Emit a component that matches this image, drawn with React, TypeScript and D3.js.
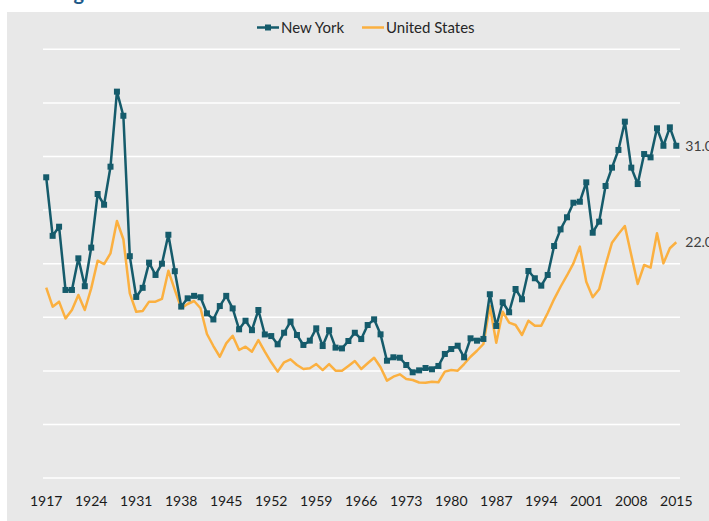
import * as d3 from 'd3';

const firstYear = 1917;
const lastYear = 2015;
const years = d3.range(firstYear, lastYear + 1);
const tickYears = [1917, 1924, 1931, 1938, 1945, 1952, 1959, 1966, 1973, 1980, 1987, 1994, 2001, 2008, 2015];
const gridValues = [0, 5, 10, 15, 20, 25, 30, 35, 40];

const seriesNames = ['New York', 'United States'];

// 1917 - 2015
const newYork = [
  28.06, 22.6, 23.45, 17.55, 17.55, 20.5, 17.9, 21.5, 26.5, 25.5,
  29.05, 36.05, 33.8, 20.7, 16.9, 17.75, 20.1, 18.95, 20.0, 22.7,
  19.3, 16.0, 16.77, 17.0, 16.87, 15.37, 14.8, 16.05, 17.0, 15.83,
  13.88, 14.68, 13.8, 15.68, 13.4, 13.25, 12.48, 13.56, 14.6, 13.35,
  12.42, 12.82, 13.97, 12.32, 13.8, 12.17, 12.1, 12.79, 13.56, 12.97,
  14.28, 14.81, 13.41, 10.95, 11.27, 11.23, 10.55, 9.87, 10.05, 10.27,
  10.15, 10.46, 11.58, 12.04, 12.35, 11.27, 13.04, 12.82, 12.98, 17.15,
  14.19, 16.4, 15.47, 17.64, 16.68, 19.32, 18.64, 17.95, 18.95, 21.65,
  23.2, 24.33, 25.69, 25.78, 27.59, 22.89, 23.92, 27.25, 28.96, 30.61,
  33.25, 28.96, 27.43, 30.23, 29.92, 32.63, 31.0, 32.72, 31.0,
];

const unitedStates = [
  17.76, 15.99, 16.46, 14.9, 15.68, 17.08, 15.68, 17.7, 20.28, 19.97,
  20.97, 23.98, 22.28, 17.24, 15.52, 15.59, 16.46, 16.46, 16.71, 19.35,
  17.55, 15.84, 16.24, 16.52, 15.84, 13.44, 12.32, 11.32, 12.57, 13.28,
  11.95, 12.26, 11.79, 12.88, 11.79, 10.8, 9.93, 10.8, 11.08, 10.55,
  10.18, 10.24, 10.64, 10.08, 10.64, 10.02, 10.02, 10.46, 10.92, 10.18,
  10.71, 11.23, 10.34, 9.09, 9.46, 9.68, 9.24, 9.15, 8.92, 8.9,
  8.99, 8.94, 9.93, 10.08, 10.02, 10.64, 11.32, 11.88, 12.51, 16.05,
  12.63, 15.52, 14.5, 14.28, 13.35, 14.68, 14.22, 14.22, 15.4, 16.7,
  17.85, 18.9, 20.03, 21.59, 18.32, 16.87, 17.61, 19.88, 21.96, 22.77,
  23.52, 20.81, 18.11, 19.88, 19.63, 22.84, 20.03, 21.44, 22.0,
];

const width = 709;
const height = 521;
const nyColor = '#155b6b';
const usColor = '#fbb040';
const font = "Lato, 'Open Sans', sans-serif";

export default function App() {
  const x = d3.scalePoint<number>().domain(years).range([43, 679.5]).padding(0.5);
  const y = d3.scaleLinear().domain([0, 40]).range([478.1, 49.3]);

  const line = d3
    .line<number>()
    .x((_, i) => x(years[i]) as number)
    .y((d) => y(d));

  const lastX = x(lastYear) as number;
  const nyLast = newYork[newYork.length - 1];
  const usLast = unitedStates[unitedStates.length - 1];

  return (
    <div style={{ position: 'fixed', left: 0, top: 0 }}>
      <svg width={width} height={height} style={{ display: 'block' }}>
        <rect x={0} y={0} width={width} height={height} fill="#ffffff" />
        <text x={84} y={0} textAnchor="end" fontFamily={font} fontWeight="bold" fontSize={20} fill="#1d5a8a">
          Housing
        </text>
        <rect x={7} y={12} width={width - 7} height={height - 12} fill="#e8e8e8" />

        {gridValues.map((v) => (
          <line key={v} x1={43} x2={680} y1={y(v)} y2={y(v)} stroke="#ffffff" strokeWidth={1.5} />
        ))}

        {/* legend */}
        <g fontFamily={font} fontSize={15} fill="#262626">
          <line x1={257} x2={279} y1={27.5} y2={27.5} stroke={nyColor} strokeWidth={2.5} />
          <rect x={265} y={24.5} width={6} height={6} fill={nyColor} />
          <text x={281} y={33}>{seriesNames[0]}</text>
          <line x1={362} x2={384} y1={27.5} y2={27.5} stroke={usColor} strokeWidth={2.5} />
          <text x={386} y={33}>{seriesNames[1]}</text>
        </g>

        <path d={line(unitedStates) ?? ''} fill="none" stroke={usColor} strokeWidth={2.5} strokeLinejoin="round" />
        <path d={line(newYork) ?? ''} fill="none" stroke={nyColor} strokeWidth={2.5} strokeLinejoin="round" />
        {newYork.map((v, i) => (
          <rect
            key={i}
            x={(x(years[i]) as number) - 3}
            y={y(v) - 3}
            width={6}
            height={6}
            fill={nyColor}
          />
        ))}

        <g fontFamily={font} fontSize={14} fill="#404040">
          <text x={lastX + 9} y={y(nyLast) + 5}>{nyLast.toFixed(1)}</text>
          <text x={lastX + 9} y={y(usLast) + 5}>{usLast.toFixed(1)}</text>
        </g>

        <g fontFamily={font} fontSize={14} fill="#1a1a1a" textAnchor="middle">
          {tickYears.map((t) => (
            <text key={t} x={x(t) as number} y={506}>{t}</text>
          ))}
        </g>
      </svg>
    </div>
  );
}
